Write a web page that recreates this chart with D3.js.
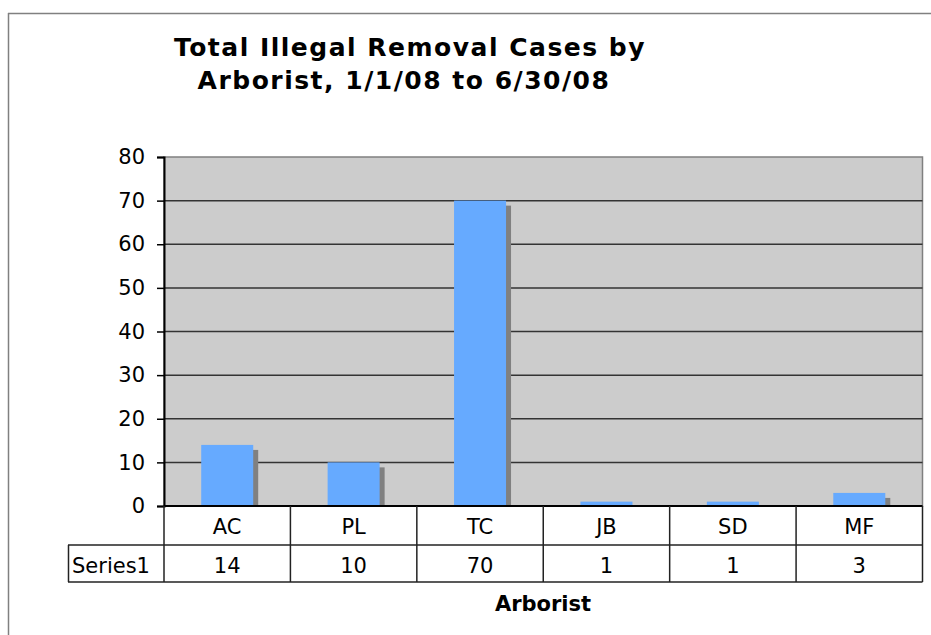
<!DOCTYPE html>
<html>
<head>
<meta charset="utf-8">
<script src="https://cdn.jsdelivr.net/npm/d3@7"></script>
<style>
  body { margin: 0; background: #fff; }
  text { font-family: "DejaVu Sans", Verdana, sans-serif; fill: #000; }
</style>
</head>
<body>
<svg id="chart" width="931" height="635"></svg>
<script>
var categories = ["AC", "PL", "TC", "JB", "SD", "MF"];
var values = [14, 10, 70, 1, 1, 3];
var seriesName = "Series1";
var yTicks = [0, 10, 20, 30, 40, 50, 60, 70, 80];

var svg = d3.select("#chart");

var plotLeft = 164, plotRight = 922.5, plotTop = 157, plotBottom = 506;
var rowH1 = 39, rowH2 = 37;
var tableLeft = 68;

var x = d3.scaleBand().domain(categories).range([plotLeft, plotRight]);
var y = d3.scaleLinear().domain([0, 80]).range([plotBottom, plotTop]);

// outer frame (only top + left visible)
svg.append("line").attr("x1", 8).attr("x2", 931).attr("y1", 13.5).attr("y2", 13.5)
  .attr("stroke", "#808080").attr("stroke-width", 1.5);
svg.append("line").attr("x1", 8.5).attr("x2", 8.5).attr("y1", 13).attr("y2", 635)
  .attr("stroke", "#808080").attr("stroke-width", 1.5);

// title
var title = svg.append("text").attr("text-anchor", "middle")
  .style("font-weight", "bold").style("font-size", "25px").style("letter-spacing", "1.5px");
title.append("tspan").attr("x", 410).attr("y", 56).text("Total Illegal Removal Cases by");
title.append("tspan").attr("x", 404).attr("y", 89).text("Arborist, 1/1/08 to 6/30/08");

// plot area
svg.append("rect").attr("x", plotLeft).attr("y", plotTop)
  .attr("width", plotRight - plotLeft).attr("height", plotBottom - plotTop)
  .attr("fill", "#cccccc").attr("stroke", "#808080").attr("stroke-width", 1.5);

// gridlines
svg.selectAll(".grid").data(yTicks.filter(function (d) { return d > 0 && d < 80; }))
  .enter().append("line")
  .attr("x1", plotLeft).attr("x2", plotRight)
  .attr("y1", function (d) { return y(d); }).attr("y2", function (d) { return y(d); })
  .attr("stroke", "#333").attr("stroke-width", 1.5);

// bars with shadow
var bw = 52;
svg.selectAll(".shadow").data(values).enter().append("rect")
  .attr("x", function (d, i) { return x(categories[i]) + x.bandwidth() / 2 - bw / 2 + 5; })
  .attr("y", function (d) { return Math.min(y(d) + 5, plotBottom); })
  .attr("width", bw)
  .attr("height", function (d) { return Math.max(plotBottom - y(d) - 5, 0); })
  .attr("fill", "#808080");
svg.selectAll(".bar").data(values).enter().append("rect")
  .attr("x", function (d, i) { return x(categories[i]) + x.bandwidth() / 2 - bw / 2; })
  .attr("y", function (d) { return y(d); })
  .attr("width", bw)
  .attr("height", function (d) { return plotBottom - y(d); })
  .attr("fill", "#66aaff");

// y axis
var yAxis = d3.axisLeft(y).tickValues(yTicks).tickSize(7).tickPadding(12);
var gy = svg.append("g").attr("transform", "translate(" + plotLeft + ",0)").call(yAxis);
gy.select(".domain").attr("stroke", "#000").attr("stroke-width", 2);
gy.selectAll(".tick line").attr("stroke", "#000").attr("stroke-width", 1.5);
gy.selectAll(".tick text").style("font-size", "21px")
  .style("font-family", "'DejaVu Sans', Verdana, sans-serif").attr("fill", "#000");

// data table
var t = svg.append("g");
var tableColor = "#222";
t.append("line").attr("x1", plotLeft).attr("x2", plotRight).attr("y1", plotBottom).attr("y2", plotBottom)
  .attr("stroke", "#000").attr("stroke-width", 2);
t.append("line").attr("x1", tableLeft).attr("x2", plotRight).attr("y1", plotBottom + rowH1).attr("y2", plotBottom + rowH1)
  .attr("stroke", tableColor).attr("stroke-width", 1.5);
t.append("line").attr("x1", tableLeft).attr("x2", plotRight).attr("y1", plotBottom + rowH1 + rowH2).attr("y2", plotBottom + rowH1 + rowH2)
  .attr("stroke", tableColor).attr("stroke-width", 1.5);
t.append("line").attr("x1", tableLeft + 0.5).attr("x2", tableLeft + 0.5).attr("y1", plotBottom + rowH1).attr("y2", plotBottom + rowH1 + rowH2)
  .attr("stroke", tableColor).attr("stroke-width", 1.5);
var edges = categories.map(function (c) { return x(c); }).concat([plotRight]);
t.selectAll(".vline").data(edges).enter().append("line")
  .attr("x1", function (d) { return d; }).attr("x2", function (d) { return d; })
  .attr("y1", plotBottom).attr("y2", plotBottom + rowH1 + rowH2)
  .attr("stroke", tableColor).attr("stroke-width", 1.5);

t.selectAll(".cat").data(categories).enter().append("text")
  .attr("x", function (d) { return x(d) + x.bandwidth() / 2; })
  .attr("y", plotBottom + 28).attr("text-anchor", "middle")
  .style("font-size", "21px").text(function (d) { return d; });
t.selectAll(".val").data(values).enter().append("text")
  .attr("x", function (d, i) { return x(categories[i]) + x.bandwidth() / 2; })
  .attr("y", plotBottom + rowH1 + 28).attr("text-anchor", "middle")
  .style("font-size", "21px").text(function (d) { return d; });
t.append("text").attr("x", tableLeft + 4).attr("y", plotBottom + rowH1 + 28)
  .style("font-size", "21px").text(seriesName);

// x axis title
svg.append("text").attr("x", 543).attr("y", 611).attr("text-anchor", "middle")
  .style("font-weight", "bold").style("font-size", "21px").text("Arborist");
</script>
</body>
</html>
